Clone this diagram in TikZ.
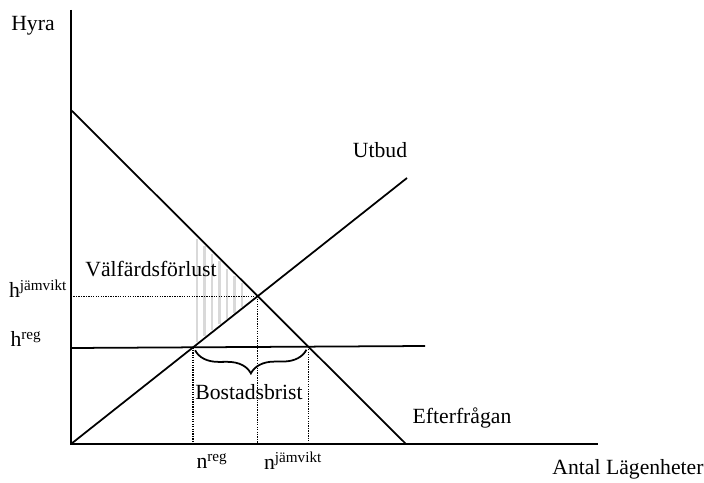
\documentclass[tikz,border=0pt]{standalone}
\usepackage{fontspec}
\setmainfont{Liberation Serif}
\usetikzlibrary{positioning, calc, decorations.pathreplacing}

\begin{document}
\begin{tikzpicture}[
    x=0.03cm, y=-0.03cm,
    axis_line/.style = {line width=1.6pt},
    curve_line/.style = {line width=1.5pt},
    guide_line/.style = {densely dotted, line width=1.1pt},
    hatch_line/.style = {gray!30, line width=2.2pt},
    lbl/.style = {font=\fontsize{18.5}{21}\selectfont, inner sep=1pt}
]
\useasboundingbox (0,0) rectangle (704,483);

% --- Axlar ---
\coordinate (O) at (71,444);
\coordinate (ytop) at (71,10);
\coordinate (xend) at (598,444);
\draw[axis_line] (ytop) -- (O) -- (xend);

% --- Välfärdsförlust (streckad yta) ---
\foreach \x in {197,204.5,212,219.5,227,234.5,242} {
    \draw[hatch_line] (\x,{113+(\x-71)/335*334}) -- (\x,{442-(\x-71)/336*266});
}

% --- Kurvor: efterfrågan, utbud, reglerad hyra ---
\coordinate (d_start) at (71,110);
\coordinate (d_end) at (406,444);
\coordinate (s_end) at (407,178);
\coordinate (reg_start) at (71,348);
\coordinate (reg_end) at (425,346);
\draw[curve_line] (d_start) -- (d_end);
\draw[curve_line] (O) -- (s_end);
\draw[curve_line] (reg_start) -- (reg_end);

% Skärningspunkter
\coordinate (eq) at (intersection of d_start--d_end and O--s_end);
\coordinate (s_reg) at (intersection of reg_start--reg_end and O--s_end);
\coordinate (d_reg) at (intersection of reg_start--reg_end and d_start--d_end);

% --- Hjälplinjer ---
\draw[guide_line] (O |- eq) -- (eq);
\draw[guide_line] (eq) -- (eq |- O);
\draw[guide_line] (s_reg) -- (s_reg |- O);
\draw[guide_line] (d_reg) -- (d_reg |- O);

% --- Bostadsbrist ---
\draw[line width=1.5pt, decorate, decoration={brace, mirror, amplitude=20pt}]
    ($(s_reg)+(2,3)$) -- ($(d_reg)+(-2,3)$);

% --- Texter ---
\node[lbl] (hyra) at (33,26) {Hyra};
\node[lbl] (antal) at (628,469) {Antal Lägenheter};
\node[lbl] (utbud) at (380,150) {Utbud};
\node[lbl] (efter) at (462,418) {Efterfrågan};
\node[lbl] (valf) at (151,269) {Välfärdsförlust};
\node[lbl] (brist) at (249,392) {Bostadsbrist};
\node[lbl] (h_jam) at (38,289) {h\textsuperscript{jämvikt}};
\node[lbl] (h_reg) at (26,339) {h\textsuperscript{reg}};
\node[lbl] (n_reg) at (212,461) {n\textsuperscript{reg}};
\node[lbl] (n_jam) at (293,461) {n\textsuperscript{jämvikt}};

\end{tikzpicture}
\end{document}
